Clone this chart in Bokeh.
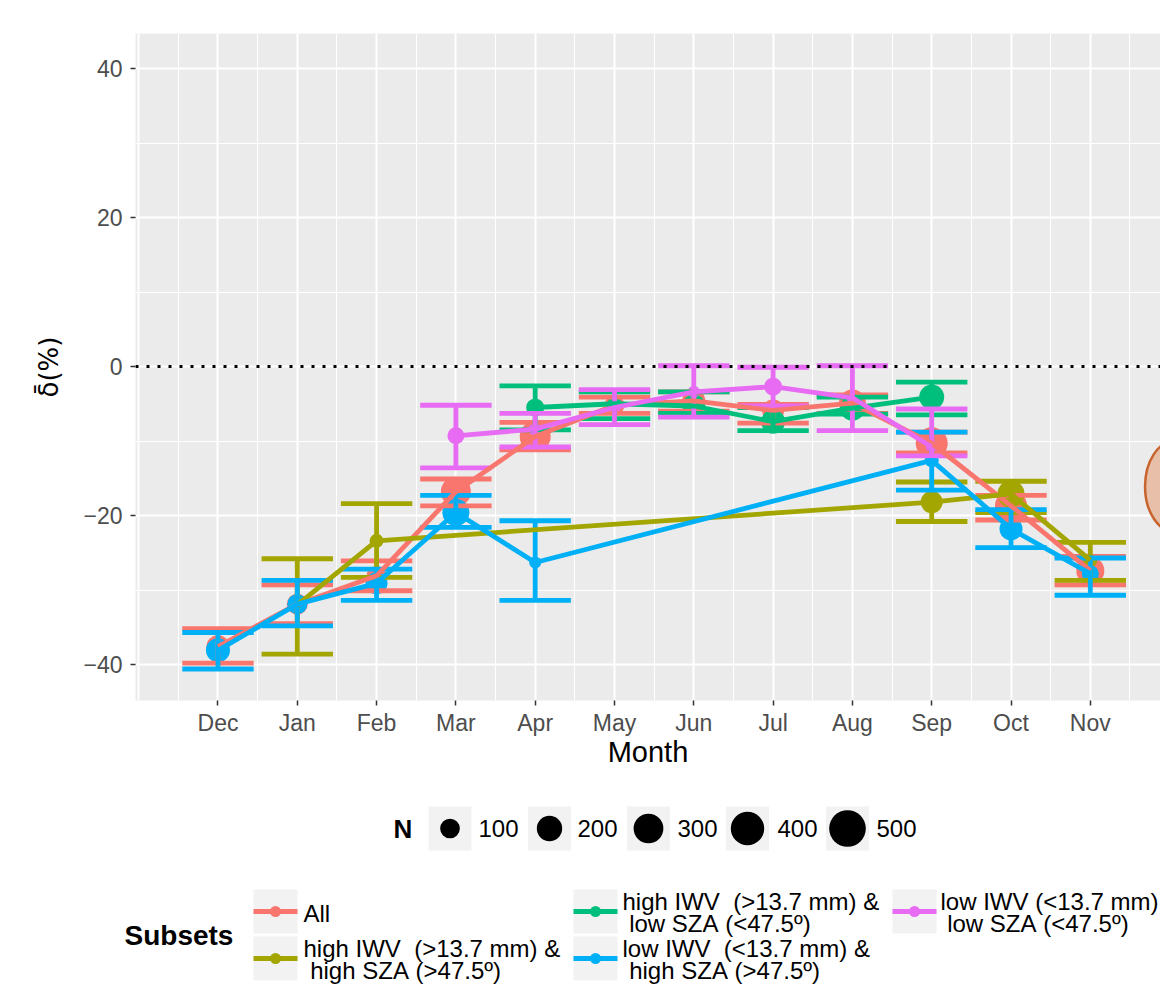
import numpy as np
from bokeh.plotting import figure
from bokeh.models import FixedTicker, Range1d, Span, ColumnDataSource, Label
from bokeh.layouts import column
from bokeh.embed import file_html
from bokeh.resources import INLINE
from bokeh.core.properties import value

FONT = "Liberation Sans"
NB = "\u00a0"

# ---------------- data ----------------
months = ["Dec", "Jan", "Feb", "Mar", "Apr", "May", "Jun", "Jul", "Aug", "Sep", "Oct", "Nov"]
month_pos = list(range(1, 13))
N = None

all_mean = [-37.6, -31.9, -28.1, -16.8, -9.4, -5.2, -4.6, -5.9, -4.9, -10.3, -18.7, -27.4]
all_hi = [-35.2, -29.3, -26.1, -15.1, -7.5, -4.1, -3.4, -5.1, -3.8, -8.8, -17.3, -25.5]
all_lo = [-39.8, -34.5, -30.1, -18.7, -11.2, -6.3, -6.0, -7.6, -6.3, -11.6, -20.6, -29.3]
all_n = [154, 120, 104, 307, 333, 104, 154, 136, 235, 360, 360, 258]

hh_mean = [N, -32.0, -23.4, N, N, N, N, N, N, -18.2, -17.1, -26.0]
hh_hi = [N, -25.8, -18.4, N, N, N, N, N, N, -15.5, -15.4, -23.6]
hh_lo = [N, -38.6, -28.3, N, N, N, N, N, N, -20.8, -19.6, -28.7]
hh_n = [N, 64, 34, N, N, N, N, N, N, 136, 235, 34]

hl_mean = [N, N, N, N, -5.5, -5.0, -5.3, -7.4, -5.6, -4.1, N, N]
hl_hi = [N, N, N, N, -2.6, -3.4, -3.4, -5.5, -4.1, -2.1, N, N]
hl_lo = [N, N, N, N, -8.5, -7.0, -6.3, -8.6, -6.4, -6.5, N, N]
hl_n = [N, N, N, N, 77, 34, 154, 173, 192, 192, N, N]

lh_mean = [-38.1, -31.9, -29.1, -19.6, -26.3, N, N, N, N, -12.6, -21.8, -27.8]
lh_hi = [-35.7, -28.7, -27.2, -17.3, -20.7, N, N, N, N, -8.8, -19.2, -25.7]
lh_lo = [-40.6, -34.8, -31.4, -21.6, -31.4, N, N, N, N, -16.6, -24.3, -30.7]
lh_n = [173, 104, 136, 235, 19, N, N, N, N, 34, 154, 64]

ll_mean = [N, N, N, -9.3, -8.4, -5.5, -3.4, -2.7, -4.2, -10.8, N, N]
ll_hi = [N, N, N, -5.2, -6.3, -3.1, 0.1, -0.1, 0.1, -5.7, N, N]
ll_lo = [N, N, N, -13.6, -10.8, -7.8, -6.8, -5.3, -8.6, -12.0, N, N]
ll_n = [N, N, N, 64, 26, 19, 19, 77, 19, 19, N, N]

subset_labels = [
    ["All"],
    ["high IWV  (>13.7 mm) &", " high SZA (>47.5º)"],
    ["high IWV  (>13.7 mm) &", " low SZA (<47.5º)"],
    ["low IWV  (<13.7 mm) &", " high SZA (>47.5º)"],
    ["low IWV (<13.7 mm)", " low SZA (<47.5º)"],
]
colors = ["#F8766D", "#A3A500", "#00BF7D", "#00B0F6", "#E76BF3"]
series = [
    (all_mean, all_lo, all_hi, all_n),
    (hh_mean, hh_lo, hh_hi, hh_n),
    (hl_mean, hl_lo, hl_hi, hl_n),
    (lh_mean, lh_lo, lh_hi, lh_n),
    (ll_mean, ll_lo, ll_hi, ll_n),
]
n_breaks = [100, 200, 300, 400, 500]

# highlighted blob at the right edge of the panel
blob_x = [13.07]
blob_y = [-16.1]
blob_w = [0.76]
blob_h = [12.3]

y_ticks = [-40, -20, 0, 20, 40]
y_minor = [-30, -10, 10, 30]


def n_to_size(n):
    return 6.0 + 1.37 * np.sqrt(np.asarray(n, dtype=float))


CAP = 0.45
LW = 4.8

# ---------------- main plot ----------------
p = figure(width=1160, height=775, x_range=Range1d(-0.04, 12.885),
           y_range=Range1d(-44.83, 44.70), toolbar_location=None,
           output_backend="svg", min_border_left=135, min_border_right=0,
           min_border_top=33, min_border_bottom=75)
p.background_fill_color = "#EBEBEB"
p.border_fill_color = "white"
p.outline_line_color = None

# grid
p.xgrid.ticker = FixedTicker(ticks=list(range(0, 14)),
                             minor_ticks=[i + 0.5 for i in range(0, 13)])
p.xgrid.grid_line_color = "white"
p.xgrid.grid_line_width = 2
p.xgrid.minor_grid_line_color = "white"
p.xgrid.minor_grid_line_width = 1
p.yaxis.ticker = FixedTicker(ticks=y_ticks, minor_ticks=y_minor)
p.ygrid.grid_line_color = "white"
p.ygrid.grid_line_width = 2
p.ygrid.minor_grid_line_color = "white"
p.ygrid.minor_grid_line_width = 1

# axes
p.xaxis.ticker = FixedTicker(ticks=month_pos)
p.xaxis.major_label_overrides = {m: lab for m, lab in zip(month_pos, months)}
p.yaxis.major_label_overrides = {t: (str(t).replace("-", "\u2212")) for t in y_ticks}
for ax in (p.xaxis[0], p.yaxis[0]):
    ax.axis_line_color = None
    ax.major_tick_line_color = "#333333"
    ax.major_tick_line_width = 1.5
    ax.major_tick_out = 5
    ax.major_tick_in = 0
    ax.minor_tick_line_color = None
    ax.major_label_text_font = FONT
    ax.major_label_text_font_size = "23px"
    ax.major_label_text_color = "#4D4D4D"
    ax.axis_label_text_font = FONT
    ax.axis_label_text_font_size = "29px"
    ax.axis_label_text_font_style = "normal"
    ax.axis_label_text_color = "black"
p.xaxis.axis_label = "Month"
p.xaxis.major_label_standoff = 4
p.xaxis.axis_label_standoff = -3
p.yaxis.axis_label = "\u03b4\u0304(%)"
p.yaxis.axis_label_text_font = "DejaVu Sans"
p.yaxis.axis_label_text_font_size = "26px"
p.yaxis.major_label_standoff = 8
p.yaxis.axis_label_standoff = 16


def present(vals):
    return [i for i, v in enumerate(vals) if v is not None]


# points
for (mean, lo, hi, n), col in zip(series, colors):
    idx = present(mean)
    src = ColumnDataSource(dict(x=[month_pos[i] for i in idx],
                                y=[mean[i] for i in idx],
                                s=n_to_size([n[i] for i in idx])))
    p.scatter("x", "y", size="s", source=src, marker="circle",
              fill_color=col, line_color=None)

# error bars
for (mean, lo, hi, n), col in zip(series, colors):
    idx = present(mean)
    xs = [month_pos[i] for i in idx]
    los = [lo[i] for i in idx]
    his = [hi[i] for i in idx]
    p.segment(x0=xs, y0=los, x1=xs, y1=his, line_color=col, line_width=LW)
    p.segment(x0=[x - CAP for x in xs], y0=los, x1=[x + CAP for x in xs], y1=los,
              line_color=col, line_width=LW)
    p.segment(x0=[x - CAP for x in xs], y0=his, x1=[x + CAP for x in xs], y1=his,
              line_color=col, line_width=LW)

# lines
for (mean, lo, hi, n), col in zip(series, colors):
    idx = present(mean)
    p.line([month_pos[i] for i in idx], [mean[i] for i in idx],
           line_color=col, line_width=LW, line_join="round")

p.ellipse(x=blob_x, y=blob_y, width=blob_w, height=blob_h,
          fill_color="#E8BFA8", line_color="#C8642D", line_width=2.5)

p.add_layout(Span(location=0, dimension="width", line_color="black",
                  line_width=3, line_dash="3 8"))

# ---------------- legends (pixel coordinates of the page) ----------------
can_unalign = "frame_align" in figure.properties()
LB = 0 if can_unalign else 135
leg = figure(width=1160, height=209, x_range=Range1d(LB, 1160),
             y_range=Range1d(984, 775), toolbar_location=None,
             output_backend="svg", x_axis_type=None, y_axis_type=None,
             min_border_left=LB, min_border_right=0,
             min_border_top=0, min_border_bottom=0)
if can_unalign:
    leg.frame_align = False
    p.frame_align = False
leg.outline_line_color = None
leg.grid.visible = False
leg.background_fill_color = "white"
leg.border_fill_color = "white"

# size legend
n_key_cx = [449.5, 549, 648, 747, 847]
n_lab_x = [478, 577, 677, 777, 876]
n_y = 828
leg.text(x=[393], y=[n_y], text=["N"], text_font=value(FONT), text_font_size="26px",
         text_font_style="bold", text_baseline="middle", text_align="left")
leg.quad(left=[c - 21.5 for c in n_key_cx], right=[c + 21.5 for c in n_key_cx],
         top=[n_y - 22] * 5, bottom=[n_y + 22] * 5, fill_color="#F2F2F2", line_color=None)
leg.scatter(x=n_key_cx, y=[n_y] * 5, size=n_to_size(n_breaks), marker="circle",
            fill_color="black", line_color=None)
leg.text(x=n_lab_x, y=[n_y] * 5, text=[str(b) for b in n_breaks], text_font=value(FONT),
         text_font_size="24px", text_baseline="middle", text_align="left")

# subsets legend
if can_unalign:
    leg.text(x=[124], y=[935], text=["Subsets"], text_font=value(FONT),
             text_font_size="28px", text_font_style="bold", text_color="black",
             text_baseline="middle", text_align="left")
else:
    leg.add_layout(Label(x=124, y=935, text="Subsets", text_font=FONT,
                         text_font_size="28px", text_font_style="bold",
                         text_color="black", text_baseline="middle", text_align="left"))
key_cx = [275, 275, 595, 595, 914]
key_cy = [911, 958, 911, 958, 911]
lab_x = [303, 303, 622, 622, 940]
leg.quad(left=[c - 22 for c in key_cx], right=[c + 22 for c in key_cx],
         top=[c - 22 for c in key_cy], bottom=[c + 22 for c in key_cy],
         fill_color="#F2F2F2", line_color=None)
for cx, cy, col in zip(key_cx, key_cy, colors):
    leg.segment(x0=[cx - 22], y0=[cy], x1=[cx + 22], y1=[cy], line_color=col, line_width=LW)
    leg.scatter(x=[cx], y=[cy], size=11, marker="circle", fill_color=col, line_color=None)
tx, ty, tt = [], [], []
for lx, cy, lines in zip(lab_x, key_cy, subset_labels):
    lines = [s.replace(" ", NB) for s in lines]
    if len(lines) == 1:
        tx.append(lx); ty.append(cy + 2); tt.append(lines[0])
    else:
        tx += [lx, lx]; ty += [cy - 10, cy + 12]; tt += lines
leg.text(x=tx, y=ty, text=tt, text_font=value(FONT), text_font_size="24px",
         text_baseline="middle", text_align="left")

layout = column(p, leg, spacing=0)
open("out.html", "w").write(file_html(layout, INLINE))
